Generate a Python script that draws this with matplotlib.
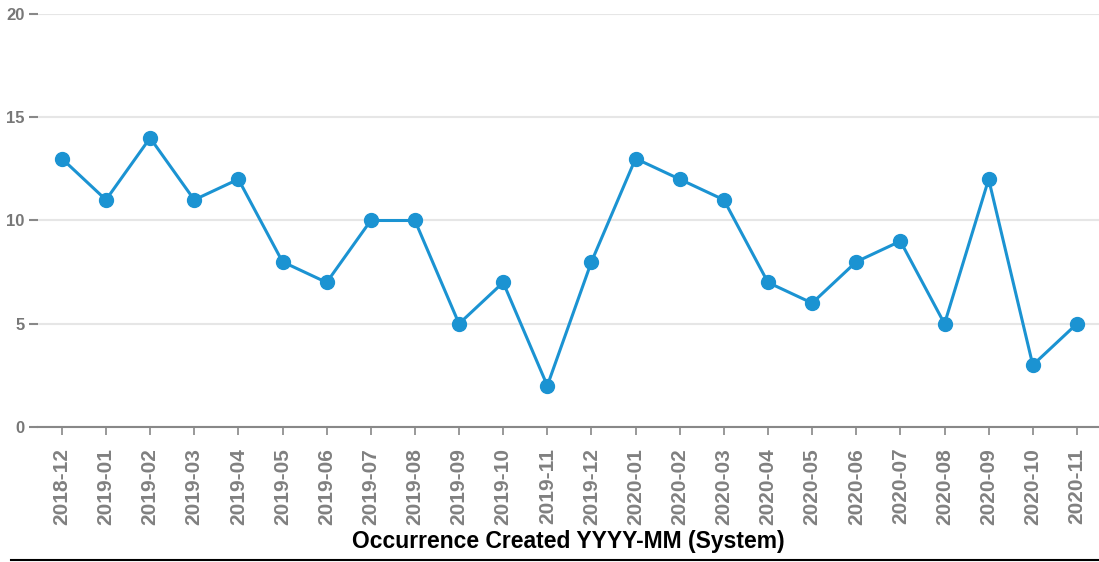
import matplotlib
matplotlib.use("Agg")
import matplotlib.pyplot as plt
from matplotlib.lines import Line2D

months = ["2018-12", "2019-01", "2019-02", "2019-03", "2019-04", "2019-05",
          "2019-06", "2019-07", "2019-08", "2019-09", "2019-10", "2019-11",
          "2019-12", "2020-01", "2020-02", "2020-03", "2020-04", "2020-05",
          "2020-06", "2020-07", "2020-08", "2020-09", "2020-10", "2020-11"]
counts = [13, 11, 14, 11, 12, 8, 7, 10, 10, 5, 7, 2,
          8, 13, 12, 11, 7, 6, 8, 9, 5, 12, 3, 5]
yticks = [0, 5, 10, 15, 20]

W, H = 1099, 562
fig = plt.figure(figsize=(W / 100, H / 100), dpi=100)
ax = fig.add_axes([38 / W, 1 - 427 / H, (W - 38) / W, (427 - 14) / H])

x = list(range(len(months)))
ax.plot(x, counts, color="#1b93d2", linewidth=2.2, marker="o",
        markersize=10, markerfacecolor="#1b93d2", markeredgecolor="#1b93d2",
        zorder=3, clip_on=False)

ax.set_xlim(-0.54, 23.5)
ax.set_ylim(0, 20)
ax.set_yticks(yticks)
ax.set_yticklabels([str(v) for v in yticks])
ax.set_xticks(x)
ax.set_xticklabels(months, rotation=90)

for s in ["top", "right", "left"]:
    ax.spines[s].set_visible(False)
ax.spines["bottom"].set_color("#888888")
ax.spines["bottom"].set_linewidth(1.5)

ax.grid(axis="y", color="#e6e6e6", linewidth=1.5)
ax.set_axisbelow(True)

ax.tick_params(axis="y", length=6.5, width=1.5, color="#888888", pad=3,
               labelsize=12, labelcolor="#777777")
ax.tick_params(axis="x", length=6, width=1.2, color="#888888", pad=9,
               labelsize=15, labelcolor="#808080")
for lab in ax.get_xticklabels() + ax.get_yticklabels():
    lab.set_fontweight("bold")
    lab.set_family(["Liberation Sans", "DejaVu Sans"])

ax.set_xlabel("Occurrence Created YYYY-MM (System)", fontsize=16.5,
              fontweight="bold", color="#000000",
              family=["Liberation Sans", "DejaVu Sans"], labelpad=4)

fig.add_artist(Line2D([11 / W, 1], [1 - 560 / H, 1 - 560 / H],
                      color="black", linewidth=1.5, transform=fig.transFigure))

fig.savefig("out.png", dpi=100)
